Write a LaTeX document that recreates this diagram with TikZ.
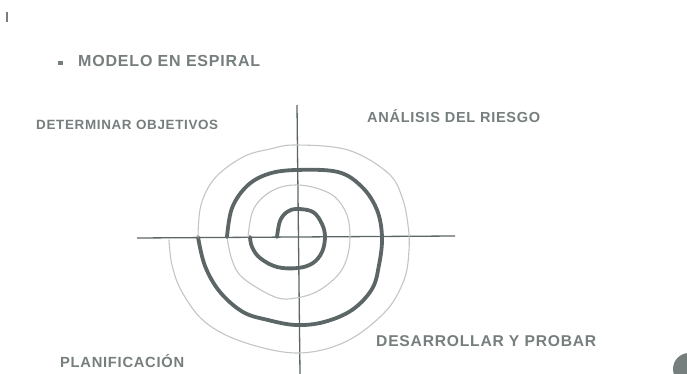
\documentclass[tikz,border=0pt]{standalone}
\usepackage{fontspec}
\usepackage{graphicx}
\newfontfamily\handfont[LetterSpace=5]{Liberation Sans Bold}
\definecolor{ink}{RGB}{118,126,126}
\definecolor{thickink}{RGB}{92,102,102}
\definecolor{faint}{RGB}{196,198,198}
\newcommand{\fitlab}[2]{\resizebox{#1}{!}{\handfont #2}}
\begin{document}
\begin{tikzpicture}[x=1pt,y=-1pt,
  lab/.style={inner sep=0pt,text=ink,font=\handfont},
  axis/.style={draw=thickink,line width=1.3pt},
  thickspiral/.style={draw=thickink,line width=3.8pt,line cap=round,line join=round},
  thinspiral/.style={draw=faint,line width=1.1pt,line cap=round,line join=round}]
\useasboundingbox (0,0) rectangle (687,374);
\fill[white] (0,0) rectangle (687,374);
% small tick mark top-left
\coordinate (tickA) at (7,12);
\coordinate (tickB) at (7,22);
\draw[ink,line width=1.8pt] (tickA) -- (tickB);
% title
\node[rectangle,fill=ink,inner sep=0pt,minimum width=5pt,minimum height=4pt] (bullet) at (60,63) {};
\node[lab,anchor=west] (title) at (78,61) {\fitlab{182pt}{MODELO EN ESPIRAL}};
% quadrant labels
\node[lab,anchor=west] (obj) at (36,125) {\fitlab{182pt}{DETERMINAR OBJETIVOS}};
\node[lab,anchor=west] (risk) at (367,116) {\fitlab{173pt}{ANÁLISIS DEL RIESGO}};
\node[lab,anchor=west] (plan) at (60,361) {\fitlab{124pt}{PLANIFICACIÓN}};
\node[lab,anchor=west] (dev) at (376,341) {\fitlab{220pt}{DESARROLLAR Y PROBAR}};
% axes
\coordinate (vtop) at (297,105);
\coordinate (vbot) at (300,374);
\coordinate (hleft) at (137,238);
\coordinate (hright) at (455,236);
\draw[axis] (vtop) -- (vbot);
\draw[axis] (hleft) -- (hright);
% spiral: thick inner turn
\draw[thickspiral] plot[smooth,tension=0.6] coordinates {(277,237) (280,221) (287,212) (297,209) (313,212) (322,224) (325,237) (322,252) (313,263) (298,268) (277,267) (260,258) (252,247) (250,237)};
% thin middle turn
\draw[thinspiral] plot[smooth,tension=0.6] coordinates {(248,237) (252,213) (262,198) (278,188) (296,185) (316,188) (335,197) (347,215) (350,237) (347,258) (338,275) (318,291) (296,298) (275,297) (243,278) (232,260) (227,237)};
% thick outer turn
\draw[thickspiral] plot[smooth,tension=0.6] coordinates {(227,237) (232,208) (247,186) (268,174) (296,170) (338,172) (362,187) (377,210) (382,237) (379,265) (372,289) (352,310) (324,322) (296,325) (268,320) (243,312) (220,292) (205,266) (198,237)};
% thin outer turn
\draw[thinspiral] plot[smooth,tension=0.6] coordinates {(198,237) (201,205) (215,178) (243,157) (270,149) (296,145) (348,150) (388,173) (402,197) (408,225) (409,250) (404,280) (385,312) (345,342) (297,353) (243,342) (205,322) (182,292) (172,265) (169,240)};
% dot at bottom-right corner
\fill[ink] (689,369) circle (16);
\end{tikzpicture}
\end{document}
